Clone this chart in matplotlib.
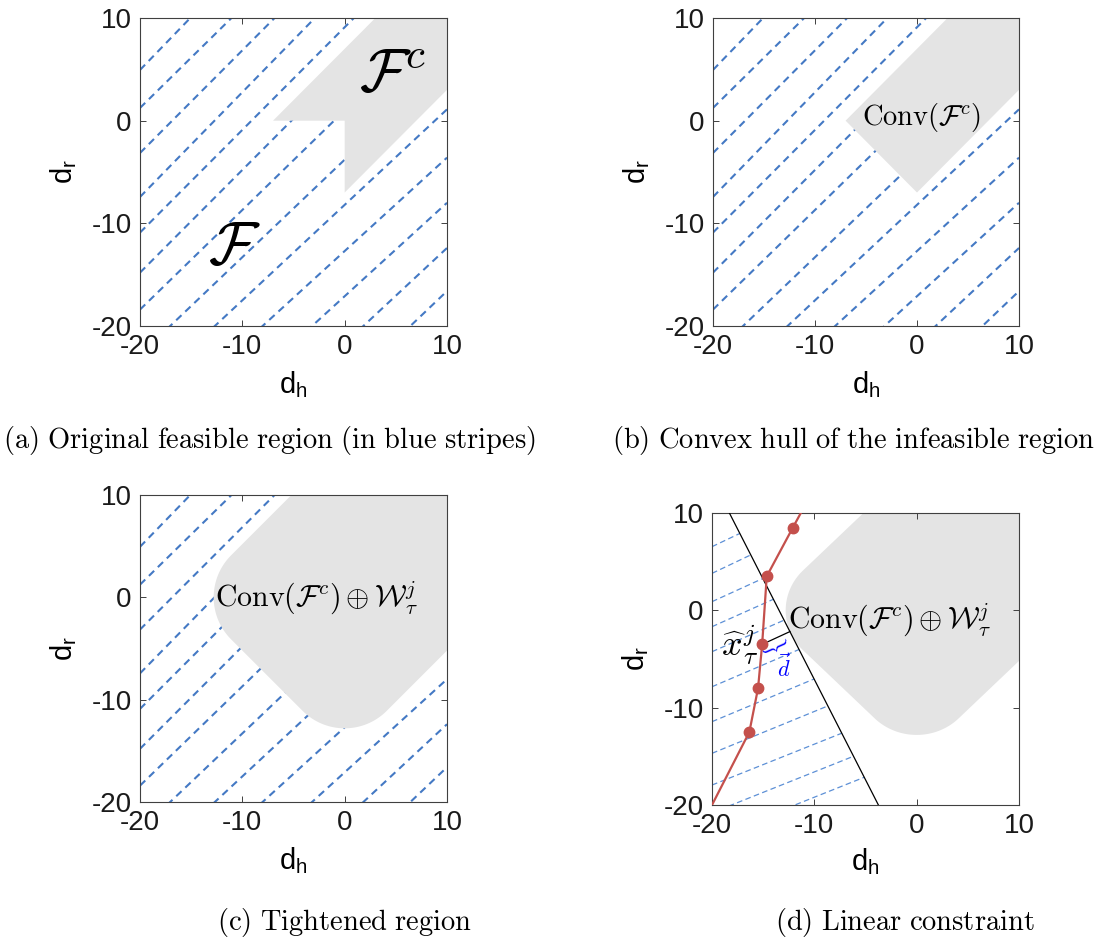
import numpy as np
import matplotlib
matplotlib.use('Agg')
import matplotlib.pyplot as plt
from matplotlib.patches import Polygon

plt.rcParams['font.family'] = ['Liberation Sans', 'DejaVu Sans']
plt.rcParams['mathtext.fontset'] = 'custom'
plt.rcParams['mathtext.rm'] = 'Liberation Sans'
plt.rcParams['axes.unicode_minus'] = False

lims = (-20, 10)
ticks = [-20, -10, 0, 10]

# infeasible region F^c and its convex hull
fc_x = [-7, 3, 10, 10, 0, 0]
fc_y = [0, 10, 10, 3, -7, 0]
conv_x = [-7, 3, 10, 10, 0]
conv_y = [0, 10, 10, 3, -7]
w_radius = 5.8

# blue stripes of (a)-(c): d_r value at d_h = -20, and slope
stripe_y0 = [4.94, 1.24, -3.15, -7.43, -10.9, -14.8, -18.4, -22.8, -26.8, -30.9, -35.3, -40.3, -45.1]
stripe_m = [1.03, 0.98, 1.0, 1.02, 1.0, 1.0, 0.97, 0.95, 0.93, 0.91, 0.91, 0.93, 0.95]

# stripes of (d)
d_stripe_y0 = [6.54, 3.8, 0.89, -1.68, -4.25, -7.85, -11.44, -14.69, -17.95, -20.8, -23.4]
d_stripe_m = [0.5, 0.5, 0.48, 0.47, 0.46, 0.45, 0.44, 0.43, 0.42, 0.42, 0.42]

# linear constraint and trajectory
con_x = [-18.3, -3.74]
con_y = [10, -20]
traj_x = [-20, -16.35, -15.5, -15.1, -14.65, -12.1, -10.8]
traj_y = [-20, -12.5, -8.0, -3.5, 3.5, 8.5, 11.0]
marker_idx = [1, 2, 3, 4, 5]

captions = ['(a) Original feasible region (in blue stripes)',
            '(b) Convex hull of the infeasible region',
            '(c) Tightened region',
            '(d) Linear constraint']

GRAY = '#e4e4e4'
BLUE = '#4479c4'
RED = '#c4504c'


def hull(px, py):
    pts = sorted(set(zip(np.round(px, 6), np.round(py, 6))))

    def cross(o, a, b):
        return (a[0] - o[0]) * (b[1] - o[1]) - (a[1] - o[1]) * (b[0] - o[0])
    lower, upper = [], []
    for p in pts:
        while len(lower) >= 2 and cross(lower[-2], lower[-1], p) <= 0:
            lower.pop()
        lower.append(p)
    for p in reversed(pts):
        while len(upper) >= 2 and cross(upper[-2], upper[-1], p) <= 0:
            upper.pop()
        upper.append(p)
    return np.array(lower[:-1] + upper[:-1])


def cm(s):
    return r'$\mathrm{' + s.replace(' ', r'\ ') + '}$'


def setup(ax):
    ax.set_xlim(lims)
    ax.set_ylim(lims)
    ax.set_xticks(ticks)
    ax.set_yticks(ticks)
    ax.tick_params(direction='in', top=True, right=True, length=4, width=0.7,
                   labelsize=20, pad=6, colors='#404040', labelcolor='#1a1a1a')
    for s in ax.spines.values():
        s.set_color('#404040')
        s.set_linewidth(0.8)
    ax.set_xlabel(r'd$_\mathrm{h}$', fontsize=21)
    ax.set_ylabel(r'd$_\mathrm{r}$', fontsize=21)
    ax.xaxis.set_label_coords(0.5, -0.14)
    ax.yaxis.set_label_coords(-0.2, 0.5)


def stripes(ax):
    xs = np.array(lims, dtype=float)
    for y0, m in zip(stripe_y0, stripe_m):
        ax.plot(xs, y0 + m * (xs + 20), color=BLUE, lw=1.5,
                ls=(0, (3.5, 2.5)), zorder=1)


ang = np.linspace(0, 2 * np.pi, 241)
big = hull((np.array(conv_x)[:, None] + w_radius * np.cos(ang)).ravel(),
           (np.array(conv_y)[:, None] + w_radius * np.sin(ang)).ravel())

fig = plt.figure(figsize=(11.08, 9.38), dpi=100)
W, H = 1108, 938


def add_ax(l, r, t, b):
    return fig.add_axes([l / W, 1 - b / H, (r - l) / W, (b - t) / H])


ax_a = add_ax(140, 447, 18, 326)
ax_b = add_ax(713, 1019, 18, 326)
ax_c = add_ax(140, 447, 495, 802)
ax_d = add_ax(712, 1019, 513, 805)

# (a)
setup(ax_a)
stripes(ax_a)
ax_a.add_patch(Polygon(np.column_stack([fc_x, fc_y]), closed=True,
                       facecolor=GRAY, edgecolor='none', zorder=2))
ax_a.text(4.7, 4.3, r'$\mathcal{F}^c$', fontsize=44, ha='center', va='center',
          math_fontfamily='cm', zorder=3)
ax_a.text(-10.8, -12.5, r'$\mathcal{F}$', fontsize=44, ha='center', va='center',
          math_fontfamily='cm', zorder=3)

# (b)
setup(ax_b)
stripes(ax_b)
ax_b.add_patch(Polygon(np.column_stack([conv_x, conv_y]), closed=True,
                       facecolor=GRAY, edgecolor='none', zorder=2))
ax_b.text(-5.4, 0.3, r'$\mathrm{Conv}(\mathcal{F}^c)$', fontsize=20.5,
          ha='left', va='center', math_fontfamily='cm', zorder=3)

# (c)
setup(ax_c)
stripes(ax_c)
ax_c.add_patch(Polygon(big, closed=True, facecolor=GRAY, edgecolor='none', zorder=2))
ax_c.text(-12.7, 0.0, r'$\mathrm{Conv}(\mathcal{F}^c)\oplus\mathcal{W}_\tau^j$',
          fontsize=21.5, ha='left', va='center', math_fontfamily='cm', zorder=3)

# (d)
setup(ax_d)
ax_d.add_patch(Polygon(big, closed=True, facecolor=GRAY, edgecolor='none', zorder=1))
clip = Polygon([[-20, 10], [con_x[0], con_y[0]], [con_x[1], con_y[1]], [-20, -20]],
               closed=True, transform=ax_d.transData, facecolor='none', edgecolor='none')
ax_d.add_patch(clip)
xs = np.array(lims, dtype=float)
for y0, m in zip(d_stripe_y0, d_stripe_m):
    ln, = ax_d.plot(xs, y0 + m * (xs + 20), color='#5d90d6', lw=0.9,
                    ls=(0, (4.5, 2.7)), zorder=2)
    ln.set_clip_path(clip)
ax_d.plot(con_x, con_y, color='black', lw=0.9, zorder=3)
ax_d.text(-12.6, -1.0, r'$\mathrm{Conv}(\mathcal{F}^c)\oplus\mathcal{W}_\tau^j$',
          fontsize=21.5, ha='left', va='center', math_fontfamily='cm', zorder=3)

# projection of x_hat onto the constraint
p0 = np.array([con_x[0], con_y[0]])
u = np.array([con_x[1] - con_x[0], con_y[1] - con_y[0]])
u = u / np.linalg.norm(u)
xh = np.array([traj_x[3], traj_y[3]])
foot = p0 + np.dot(xh - p0, u) * u
ax_d.plot([xh[0], foot[0]], [xh[1], foot[1]], color='black', lw=0.9, zorder=3)
mid = (xh + foot) / 2
ax_d.text(mid[0] - 0.3, mid[1] - 0.9, r'$\}$', fontsize=16, color='blue', rotation=-66,
          ha='center', va='center', math_fontfamily='cm', zorder=4)
ax_d.text(-12.96, -6.0, r'$\vec{d}$', fontsize=16, color='blue',
          ha='center', va='center', math_fontfamily='cm', zorder=4)
ax_d.text(-17.3, -3.6, r'$\widehat{x}_\tau^j$', fontsize=26,
          ha='center', va='center', math_fontfamily='cm', zorder=4)

ax_d.plot(traj_x, traj_y, color=RED, lw=1.6, zorder=5)
ax_d.plot([traj_x[i] for i in marker_idx], [traj_y[i] for i in marker_idx], 'o',
          color=RED, ms=7.5, zorder=6)

# captions
cap_pos = [(269, 440), (854, 440), (345, 922), (905, 922)]
for (cx, cy), txt in zip(cap_pos, captions):
    fig.text(cx / W, 1 - cy / H, cm(txt), fontsize=20.5, ha='center', va='center',
             math_fontfamily='cm')

fig.savefig('out.png', dpi=100)
